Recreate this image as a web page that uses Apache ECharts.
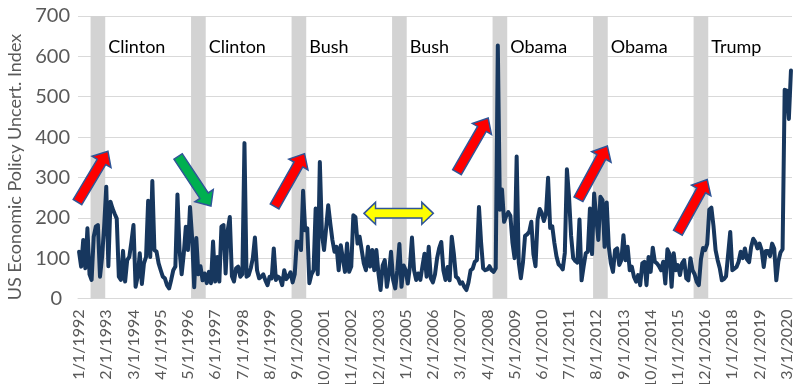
<!DOCTYPE html>
<html>
<head>
<meta charset="utf-8">
<script src="https://cdn.jsdelivr.net/npm/echarts@6/dist/echarts.min.js"></script>
<style>
  html, body { margin: 0; padding: 0; background: #ffffff; }
  #chart { width: 794px; height: 384px; }
</style>
</head>
<body>
<div id="chart"></div>
<script>
// Monthly US Economic Policy Uncertainty index, January 1992 to May 2020
const epu1992_1995 = [
  116, 79, 145, 75, 174, 60, 46, 153, 178, 182, 54, 103,
  180, 277, 80, 240, 223, 210, 198, 54, 46, 118, 42, 95,
  103, 140, 182, 29, 54, 112, 36, 87, 103, 242, 103, 291,
  120, 116, 87, 70, 54, 50, 33, 25, 46, 70, 79, 258
];
const epu1996_1999 = [
  120, 60, 110, 178, 120, 227, 150, 28, 150, 60, 80, 45,
  62, 38, 66, 38, 141, 42, 103, 42, 178, 182, 62, 169,
  202, 55, 42, 75, 79, 54, 60, 385, 54, 58, 75, 100,
  151, 70, 50, 54, 60, 45, 33, 54, 50, 124, 46, 54
];
const epu2000_2003 = [
  50, 33, 70, 48, 55, 65, 40, 60, 141, 140, 120, 267,
  169, 174, 38, 60, 70, 223, 60, 338, 160, 120, 174, 231,
  186, 145, 116, 128, 70, 132, 99, 66, 136, 66, 79, 206,
  202, 136, 153, 120, 87, 70, 128, 79, 120, 70, 120, 62
];
const epu2004_2007 = [
  21, 82, 95, 29, 60, 116, 46, 25, 70, 135, 29, 82,
  70, 37, 78, 151, 70, 46, 62, 46, 80, 111, 54, 128,
  50, 40, 60, 100, 125, 140, 70, 46, 78, 45, 153, 111,
  54, 50, 37, 40, 29, 21, 40, 70, 74, 91, 95, 227
];
const epu2008_2011 = [
  140, 75, 70, 72, 80, 70, 66, 75, 627, 220, 270, 190,
  204, 214, 205, 138, 100, 352, 89, 50, 89, 155, 159, 165,
  190, 110, 80, 196, 222, 212, 192, 210, 299, 175, 179, 138,
  105, 85, 80, 72, 113, 320, 253, 155, 100, 93, 89, 196
];
const epu2012_2015 = [
  45, 80, 112, 116, 223, 110, 260, 202, 145, 252, 244, 128,
  238, 128, 87, 66, 120, 124, 83, 95, 157, 95, 128, 70,
  79, 54, 42, 58, 33, 87, 91, 33, 103, 66, 126, 91,
  87, 80, 70, 91, 37, 122, 110, 29, 112, 70, 83, 58
];
const epu2016_2020 = [
  87, 95, 50, 45, 100, 70, 60, 41, 33, 97, 125, 120,
  135, 220, 225, 180, 120, 95, 75, 45, 48, 55, 110, 165,
  70, 74, 78, 91, 116, 100, 124, 97, 90, 128, 148, 140,
  124, 136, 120, 78, 118, 118, 105, 136, 124, 45, 92, 114,
  122, 517, 515, 445, 565
];

// Presidential campaign periods (July to January) and the winner of each election
const campaignStart = ['7/1/1992', '7/1/1996', '7/1/2000', '7/1/2004', '7/1/2008', '7/1/2012', '7/1/2016'];
const campaignEnd   = ['1/1/1993', '1/1/1997', '1/1/2001', '1/1/2005', '1/1/2009', '1/1/2013', '1/1/2017'];
const winners       = ['Clinton', 'Clinton', 'Bush', 'Bush', 'Obama', 'Obama', 'Trump'];
const winnerLabelLevel = 623;

// Trend arrows: [tail month index, tail value, tip month index, tip value]
const risingArrows = [
  [-0.74, 239, 13.8, 365],
  [93.4, 228, 107.7, 359],
  [180.5, 313, 195.4, 447],
  [238.5, 246, 252.3, 378],
  [286.0, 163, 300.0, 295]
];
const fallingArrows = [
  [47.3, 352, 63.0, 229]
];
const flatArrows = [
  [136.1, 211, 169.2, 211]
];

const yAxisTitle = 'US Economic Policy Uncert. Index';

const epuValues = [].concat(epu1992_1995, epu1996_1999, epu2000_2003,
  epu2004_2007, epu2008_2011, epu2012_2015, epu2016_2020);

// Category labels in M/1/YYYY form, one per month
const months = [];
for (let k = 0; k < epuValues.length; k++) {
  const y = 1992 + Math.floor(k / 12);
  const m = (k % 12) + 1;
  months.push(m + '/1/' + y);
}

const FONT = 'Lato, "Open Sans", sans-serif';
const GRID = { left: 78, right: 2, top: 16, bottom: 85.5 };

// pixel position of a (possibly fractional) month index and a value
function toPixel(api, m, v) {
  const i = Math.floor(m);
  const p = api.coord([i, v]);
  const band = api.size([1, 0])[0];
  return [p[0] + (m - i) * band, p[1]];
}

function renderPeriod(params, api) {
  const cs = params.coordSys;
  const band = api.size([1, 0])[0];
  const x0 = api.coord([api.value(0), 0])[0] - band / 2;
  const x1 = api.coord([api.value(1), 0])[0] + band / 2;
  const ty = api.coord([api.value(0), api.value(2)])[1];
  return {
    type: 'group',
    children: [
      { type: 'rect', shape: { x: x0, y: cs.y, width: x1 - x0, height: cs.height },
        style: { fill: '#d3d3d3' } },
      { type: 'text', style: { text: winners[params.dataIndex], x: x1 + 3, y: ty,
        fill: '#000000', fontSize: 18, fontFamily: FONT, align: 'left', verticalAlign: 'middle' } }
    ]
  };
}

const arrowItems = []
  .concat(risingArrows.map(a => ({ value: a, kind: 'up' })))
  .concat(fallingArrows.map(a => ({ value: a, kind: 'down' })))
  .concat(flatArrows.map(a => ({ value: a, kind: 'both' })));

const arrowFill = { up: '#ff0000', down: '#00b050', both: '#ffff00' };

function renderArrow(params, api) {
  const item = arrowItems[params.dataIndex];
  const a = item.value;
  const t = toPixel(api, a[0], a[1]);
  const p = toPixel(api, a[2], a[3]);
  const dx = p[0] - t[0], dy = p[1] - t[1];
  const len = Math.sqrt(dx * dx + dy * dy);
  const ux = dx / len, uy = dy / len;
  const nx = -uy, ny = ux;
  const pt = (base, along, side) => [base[0] + ux * along + nx * side, base[1] + uy * along + ny * side];
  let points;
  if (item.kind === 'both') {
    const sw = 4.75, hw = 11, hl = 11.5;
    points = [
      t, pt(t, hl, hw), pt(t, hl, sw), pt(p, -hl, sw), pt(p, -hl, hw),
      p, pt(p, -hl, -hw), pt(p, -hl, -sw), pt(t, hl, -sw), pt(t, hl, -hw)
    ];
  } else {
    const sw = 5, hw = 11, hl = 12.5;
    points = [
      pt(t, 0, sw), pt(p, -hl, sw), pt(p, -hl, hw), p,
      pt(p, -hl, -hw), pt(p, -hl, -sw), pt(t, 0, -sw)
    ];
  }
  return {
    type: 'polygon',
    shape: { points: points },
    style: { fill: arrowFill[item.kind], stroke: '#2f5597', lineWidth: 1.5, lineJoin: 'miter' }
  };
}

const chart = echarts.init(document.getElementById('chart'), null, { renderer: 'canvas' });
chart.setOption({
  animation: false,
  backgroundColor: '#ffffff',
  grid: Object.assign({ containLabel: false, outerBoundsMode: 'none' }, GRID),
  graphic: [{
    type: 'text',
    x: 15.5,
    y: 167,
    rotation: Math.PI / 2,
    silent: true,
    style: {
      text: yAxisTitle, fill: '#595959', fontSize: 18, fontFamily: FONT,
      align: 'center', verticalAlign: 'middle'
    }
  }],
  xAxis: {
    type: 'category',
    data: months,
    boundaryGap: true,
    axisTick: { show: false },
    axisLine: { lineStyle: { color: '#d9d9d9', width: 1 } },
    axisLabel: {
      interval: 12, rotate: 90, margin: 11,
      color: '#595959', fontSize: 16, fontFamily: FONT
    },
    splitLine: { show: false }
  },
  yAxis: {
    type: 'value',
    min: 0, max: 700, interval: 100,
    axisLine: { show: false },
    axisTick: { show: false },
    axisLabel: {
      color: '#595959', fontSize: 20, fontFamily: FONT, margin: 8,
      formatter: v => (v === 0 ? '{zero|0}' : String(v)),
      rich: { zero: { color: '#595959', fontSize: 20, fontFamily: FONT, padding: [0, 8, 0, 0] } }
    },
    splitLine: { lineStyle: { color: '#d9d9d9', width: 1 } }
  },
  series: [
    {
      type: 'custom',
      name: 'campaigns',
      z: 1,
      silent: true,
      renderItem: renderPeriod,
      data: campaignStart.map((s, k) => [months.indexOf(s), months.indexOf(campaignEnd[k]), winnerLabelLevel])
    },
    {
      type: 'line',
      name: 'EPU',
      z: 3,
      data: epuValues,
      showSymbol: false,
      symbol: 'none',
      lineStyle: { color: '#17375e', width: 4, join: 'round', cap: 'round' }
    },
    {
      type: 'custom',
      name: 'arrows',
      z: 5,
      silent: true,
      clip: false,
      renderItem: renderArrow,
      data: arrowItems.map(it => it.value)
    }
  ]
});
</script>
</body>
</html>
